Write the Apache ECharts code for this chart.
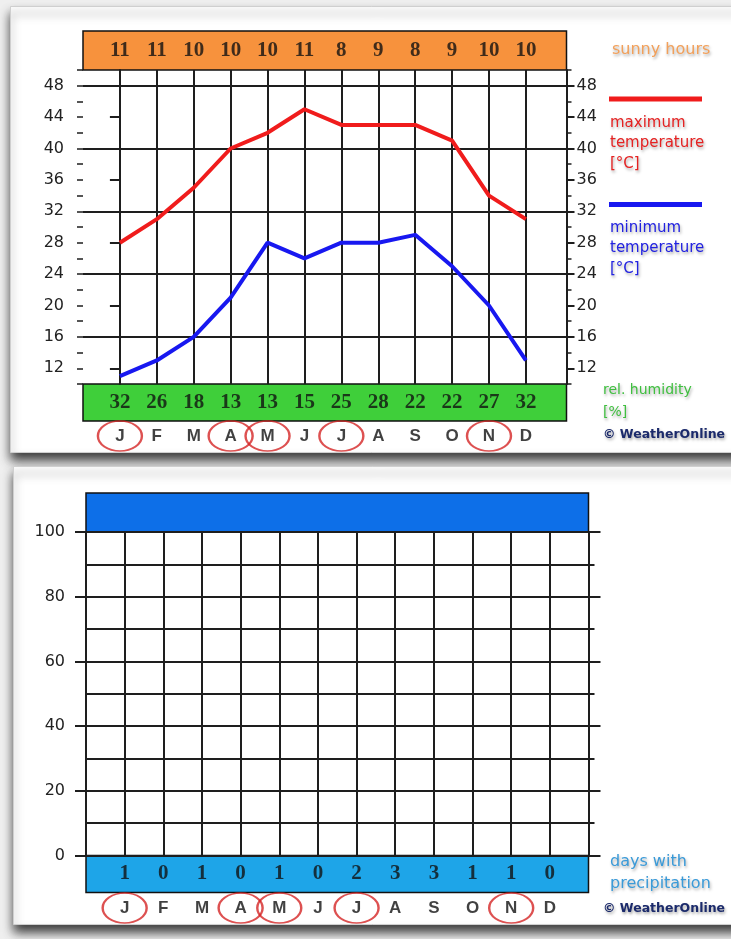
<!DOCTYPE html>
<html><head><meta charset="utf-8">
<script src="https://cdn.jsdelivr.net/npm/echarts@6/dist/echarts.min.js"></script>
<style>html,body{margin:0;padding:0;background:#efefef;}#c{width:731px;height:939px;}</style>
</head><body><div id="c"></div>
<script>
// ---- data ----
const months = ['J','F','M','A','M','J','J','A','S','O','N','D'];
const sunnyHours = [11, 11, 10, 10, 10, 11, 8, 9, 8, 9, 10, 10];
const maxTemp = [28, 31, 35, 40, 42, 45, 43, 43, 43, 41, 34, 31];
const minTemp = [11, 13, 16, 21, 28, 26, 28, 28, 29, 25, 20, 13];
const humidity = [32, 26, 18, 13, 13, 15, 25, 28, 22, 22, 27, 32];
const precipDays = [1, 0, 1, 0, 1, 0, 2, 3, 3, 1, 1, 0];
const circledMonths = [0, 3, 4, 6, 10];
const tempAxisLabels = [12, 16, 20, 24, 28, 32, 36, 40, 44, 48];
const tempMajorLines = [16, 24, 32, 40, 48];
const precipAxisLabels = [0, 20, 40, 60, 80, 100];

// ---- styles ----
const GRID_COLOR = '#1e1e1e';
const AXIS_FONT = {fontFamily: 'DejaVu Sans', fontSize: 16, color: '#222'};
const BAND_FONT = {fontFamily: 'Liberation Serif', fontWeight: 'bold', fontSize: 21, color: '#111'};
const MONTH_FONT = {fontFamily: 'Liberation Sans', fontWeight: 'bold', fontSize: 17, color: '#111'};
const ELLIPSE = 'path://M0,10 A10,10 0 1,1 20,10 A10,10 0 1,1 0,10 Z';

const chart = echarts.init(document.getElementById('c'), null, {renderer: 'canvas'});

const bandGrid = (top, height, left, width, color) => ({
  left, top, width, height, show: true, backgroundColor: color, borderColor: '#111', borderWidth: 1.5
});

const grids = [
  bandGrid(31, 39, 83, 483.5, '#f7923d'),           // 0 sunny hours
  {left: 83, top: 70, width: 483.5, height: 314},      // 1 temperature
  bandGrid(384, 37, 83, 483.5, '#3fcf3a'),           // 2 humidity
  {left: 83, top: 421, width: 483.5, height: 30},      // 3 months top
  bandGrid(493, 39, 86, 502.5, '#0d6fe8'),           // 4 blue header
  {left: 86, top: 532, width: 502.5, height: 323.5},   // 5 precipitation plot
  bandGrid(855.5, 37, 86, 502.5, '#1ea5e8'),         // 6 days with precipitation
  {left: 86, top: 892, width: 502.5, height: 32}       // 7 months bottom
];

const xAxes = grids.map((g, i) => {
  const base = {gridIndex: i, type: 'value', min: -1, max: i < 4 ? 12.1 : 12};
  if (i === 5) {
    return Object.assign(base, {
      interval: 1, axisLine: {show: false}, axisTick: {show: false}, axisLabel: {show: false},
      splitLine: {show: true, lineStyle: {color: GRID_COLOR, width: 2}}
    });
  }
  return Object.assign(base, {show: false});
});

const hidden01 = (gi) => ({gridIndex: gi, type: 'value', min: 0, max: 1, show: false});
const noSplit = {show: false};

const yAxes = [
  hidden01(0), // 0
  { // 1 temp left main
    gridIndex: 1, type: 'value', min: 10, max: 50, position: 'left',
    axisLine: {show: true, lineStyle: {color: GRID_COLOR, width: 2}},
    axisTick: {show: true, customValues: tempAxisLabels, length: 10, lineStyle: {color: GRID_COLOR, width: 2}},
    axisLabel: Object.assign({show: true, customValues: tempAxisLabels, margin: 19}, AXIS_FONT),
    splitLine: noSplit
  },
  { // 2 temp left minor
    gridIndex: 1, type: 'value', min: 10, max: 50, interval: 2, position: 'left',
    axisLine: {show: false}, axisLabel: {show: false},
    axisTick: {show: true, length: 6, lineStyle: {color: GRID_COLOR, width: 1.5}},
    splitLine: noSplit
  },
  { // 3 temp right main
    gridIndex: 1, type: 'value', min: 10, max: 50, position: 'right',
    axisLine: {show: true, lineStyle: {color: GRID_COLOR, width: 2}},
    axisTick: {show: true, customValues: tempAxisLabels, length: 8, lineStyle: {color: GRID_COLOR, width: 2}},
    axisLabel: Object.assign({show: true, customValues: tempAxisLabels, margin: 10}, AXIS_FONT),
    splitLine: noSplit
  },
  { // 4 temp right minor
    gridIndex: 1, type: 'value', min: 10, max: 50, interval: 2, position: 'right',
    axisLine: {show: false}, axisLabel: {show: false},
    axisTick: {show: true, length: 5, lineStyle: {color: GRID_COLOR, width: 1.5}},
    splitLine: noSplit
  },
  hidden01(2), // 5
  hidden01(3), // 6
  hidden01(4), // 7
  { // 8 precip left minor + split lines
    gridIndex: 5, type: 'value', min: 0, max: 100, interval: 10, position: 'left',
    axisLine: {show: false}, axisLabel: {show: false},
    axisTick: {show: true, length: 6, lineStyle: {color: GRID_COLOR, width: 2}},
    splitLine: {show: true, lineStyle: {color: GRID_COLOR, width: 2}}
  },
  { // 9 precip left main
    gridIndex: 5, type: 'value', min: 0, max: 100, position: 'left',
    axisLine: {show: false},
    axisTick: {show: true, customValues: precipAxisLabels, length: 11, lineStyle: {color: GRID_COLOR, width: 2}},
    axisLabel: Object.assign({show: true, customValues: precipAxisLabels, margin: 21}, AXIS_FONT),
    splitLine: noSplit
  },
  { // 10 precip right main
    gridIndex: 5, type: 'value', min: 0, max: 100, position: 'right',
    axisLine: {show: false}, axisLabel: {show: false},
    axisTick: {show: true, customValues: precipAxisLabels, length: 12, lineStyle: {color: GRID_COLOR, width: 2}},
    splitLine: noSplit
  },
  { // 11 precip right minor
    gridIndex: 5, type: 'value', min: 0, max: 100, interval: 10, position: 'right',
    axisLine: {show: false}, axisLabel: {show: false},
    axisTick: {show: true, length: 6, lineStyle: {color: GRID_COLOR, width: 2}},
    splitLine: noSplit
  },
  hidden01(6), // 12
  hidden01(7)  // 13
];

const labelRow = (xi, yi, values, font) => ({
  type: 'scatter', xAxisIndex: xi, yAxisIndex: yi, silent: true, z: 10,
  symbolSize: 1, itemStyle: {color: 'rgba(0,0,0,0)'},
  data: values.map((v, i) => [i, 0.5, v]),
  label: Object.assign({show: true, position: 'inside', formatter: p => String(p.value[2])}, font)
});

const circleRow = (xi, yi) => ({
  type: 'scatter', xAxisIndex: xi, yAxisIndex: yi, silent: true, z: 9,
  symbol: ELLIPSE, symbolSize: [44, 30],
  itemStyle: {color: 'rgba(0,0,0,0)', borderColor: '#d42525', borderWidth: 2},
  data: circledMonths.map(i => [i, 0.5])
});

const series = [
  labelRow(0, 0, sunnyHours, BAND_FONT),
  { // grid lines of temperature plot
    type: 'line', xAxisIndex: 1, yAxisIndex: 1, data: [], z: 1, silent: true,
    markLine: {
      silent: true, symbol: ['none', 'none'], label: {show: false}, animation: false,
      lineStyle: {color: GRID_COLOR, width: 2, type: 'solid'},
      emphasis: {disabled: true},
      data: tempMajorLines.map(v => ({yAxis: v})).concat(months.map((m, i) => ({xAxis: i})))
    }
  },
  {
    name: 'maximum temperature', type: 'line', xAxisIndex: 1, yAxisIndex: 1, z: 5,
    symbol: 'none', lineStyle: {color: '#f01c1c', width: 4},
    data: maxTemp.map((v, i) => [i, v])
  },
  {
    name: 'minimum temperature', type: 'line', xAxisIndex: 1, yAxisIndex: 1, z: 5,
    symbol: 'none', lineStyle: {color: '#1818f0', width: 4},
    data: minTemp.map((v, i) => [i, v])
  },
  labelRow(2, 5, humidity, BAND_FONT),
  labelRow(3, 6, months, MONTH_FONT),
  circleRow(3, 6),
  {type: 'line', xAxisIndex: 5, yAxisIndex: 8, data: [], silent: true},
  labelRow(6, 12, precipDays, BAND_FONT),
  labelRow(7, 13, months, MONTH_FONT),
  circleRow(7, 13)
];

const shadowText = (text, x, y, color, size, weight) => ({
  type: 'text', x, y, z: 100, silent: true,
  style: {
    text, fill: color, fontFamily: 'DejaVu Sans', fontSize: size, fontWeight: weight || 'normal',
    textVerticalAlign: 'middle', verticalAlign: 'middle',
    textShadowColor: 'rgba(0,0,0,0.35)', textShadowBlur: 3, textShadowOffsetX: 1, textShadowOffsetY: 2
  }
});

const graphic = [
  {type: 'rect', z: -100, silent: true, shape: {x: 10.5, y: 6.5, width: 740, height: 446},
   style: {fill: '#fff', stroke: '#cfcfcf', lineWidth: 1, shadowBlur: 10, shadowOffsetY: 7, shadowColor: 'rgba(0,0,0,0.75)'}},
  {type: 'rect', z: -100, silent: true, shape: {x: 13.5, y: 466.5, width: 740, height: 458},
   style: {fill: '#fff', stroke: '#cfcfcf', lineWidth: 1, shadowBlur: 10, shadowOffsetY: 7, shadowColor: 'rgba(0,0,0,0.75)'}},
  shadowText('sunny hours', 612, 50, '#f2a05a', 16),
  {type: 'rect', z: 100, silent: true, shape: {x: 609, y: 96.5, width: 93, height: 5}, style: {fill: '#f01c1c'}},
  shadowText('maximum', 610, 123, '#e52222', 15),
  shadowText('temperature', 610, 143.5, '#e52222', 15),
  shadowText('[°C]', 610, 164, '#e52222', 15),
  {type: 'rect', z: 100, silent: true, shape: {x: 609, y: 202, width: 93, height: 5}, style: {fill: '#1818f0'}},
  shadowText('minimum', 610, 228, '#2222e0', 15),
  shadowText('temperature', 610, 248.5, '#2222e0', 15),
  shadowText('[°C]', 610, 269, '#2222e0', 15),
  shadowText('rel. humidity', 603, 390, '#3fbf3f', 14),
  shadowText('[%]', 603, 412, '#3fbf3f', 14),
  shadowText('© WeatherOnline', 603, 435, '#1b2a6b', 12.5, 'bold'),
  shadowText('days with', 610, 862, '#3a9ad8', 16),
  shadowText('precipitation', 610, 884, '#3a9ad8', 16),
  shadowText('© WeatherOnline', 603, 909, '#1b2a6b', 12.5, 'bold')
];

chart.setOption({
  animation: false,
  backgroundColor: '#efefef',
  grid: grids,
  xAxis: xAxes,
  yAxis: yAxes,
  series: series,
  graphic: graphic
});
</script>
</body></html>
